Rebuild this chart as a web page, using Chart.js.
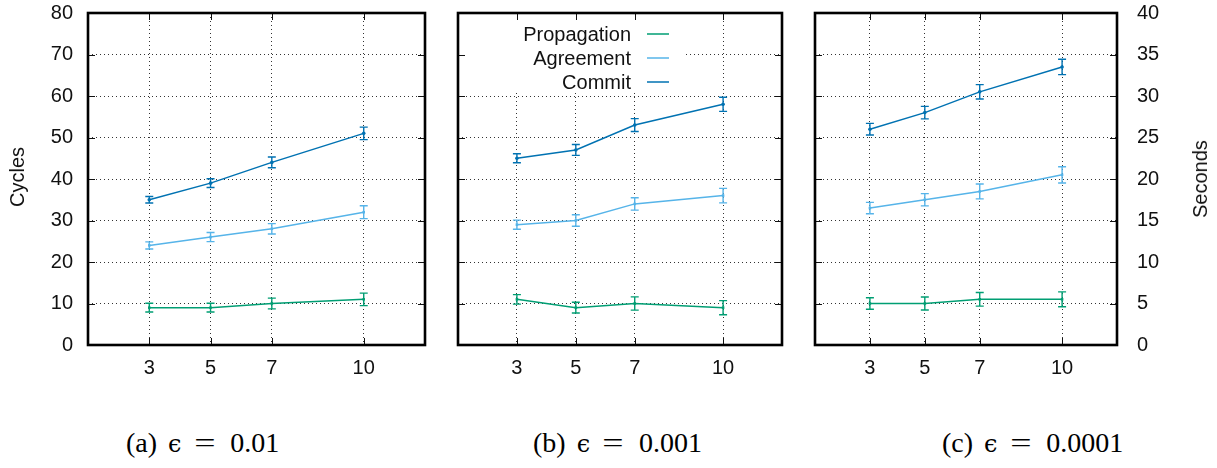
<!DOCTYPE html>
<html>
<head>
<meta charset="utf-8">
<script src="https://cdn.jsdelivr.net/npm/chart.js@4.4.1/dist/chart.umd.min.js"></script>
<style>
  html, body { margin: 0; padding: 0; background: #fff; }
  #wrap { position: relative; width: 1217px; height: 468px; overflow: hidden;
          font-family: 'Liberation Sans', Arial, sans-serif; color: #111; }
  canvas { position: absolute; top: 0; }
  .ytitle { position: absolute; font-size: 20px; line-height: 1; white-space: nowrap;
            transform: translate(-50%, -50%) rotate(-90deg); }
  .cap { position: absolute; top: 429px; font-family: 'Liberation Serif', 'DejaVu Serif', serif;
         font-size: 28px; line-height: 1; white-space: nowrap; color: #000; }
  .cap .eps { margin-left: 11px; font-family: 'DejaVu Serif', serif; font-size: 24px; }
  .cap .eq { margin-left: 15px; display: inline-block; transform: scaleX(1.35); }
  .cap .num { margin-left: 18px; }
</style>
</head>
<body>
<div id="wrap">
  <canvas id="panelA" width="440" height="400" style="left:0px"></canvas>
  <canvas id="panelB" width="350" height="400" style="left:440px"></canvas>
  <canvas id="panelC" width="417" height="400" style="left:800px"></canvas>
  <div class="ytitle" style="left:17px; top:177px;">Cycles</div>
  <div class="ytitle" style="left:1200px; top:179px;">Seconds</div>
  <div class="cap" style="left:126px;">(a)<span class="eps">ϵ</span><span class="eq">=</span><span class="num">0.01</span></div>
  <div class="cap" style="left:533px;">(b)<span class="eps">ϵ</span><span class="eq">=</span><span class="num">0.001</span></div>
  <div class="cap" style="left:942px;">(c)<span class="eps">ϵ</span><span class="eq">=</span><span class="num">0.0001</span></div>
</div>
<script>
// Number of nodes on the x axis
const nodes = [3, 5, 7, 10];
const seriesNames = ['Propagation', 'Agreement', 'Commit'];
const seriesColors = ['#009e73', '#56b4e9', '#0072b2'];

// ε = 0.01 (cycles): means and error half-widths
const propA = [9, 9, 10, 11];
const propAErr = [1.05, 1.05, 1.3, 1.5];
const agreeA = [24, 26, 28, 32];
const agreeAErr = [0.85, 1.1, 1.25, 1.55];
const commitA = [35, 39, 44, 51];
const commitAErr = [0.8, 1.05, 1.3, 1.5];

// ε = 0.001 (cycles)
const propB = [11, 9, 10, 9];
const propBErr = [1.15, 1.3, 1.6, 1.7];
const agreeB = [29, 30, 34, 36];
const agreeBErr = [1.1, 1.4, 1.5, 1.75];
const commitB = [45, 47, 53, 58];
const commitBErr = [1.1, 1.3, 1.55, 1.7];

// ε = 0.0001 (seconds)
const propC = [5, 5, 5.5, 5.5];
const propCErr = [0.7, 0.78, 0.82, 0.9];
const agreeC = [16.5, 17.5, 18.5, 20.5];
const agreeCErr = [0.68, 0.74, 0.9, 0.98];
const commitC = [26, 28, 30.5, 33.5];
const commitCErr = [0.7, 0.75, 0.87, 0.92];

// Axis tick labels
const cycleTicks = [0, 10, 20, 30, 40, 50, 60, 70, 80];
const secondTicks = [0, 5, 10, 15, 20, 25, 30, 35, 40];

const FONT = 'Liberation Sans, Arial, sans-serif';

// Error bars, plot frame with inward ticks, and the in-plot key
const framePlugin = {
  id: 'frame',
  beforeDatasetsDraw(chart, args, opts) {
    if (!opts.legend) return;
    const { ctx, chartArea } = chart;
    ctx.save();
    ctx.fillStyle = '#fff';
    ctx.fillRect(chartArea.left + 1, chartArea.top + 1, 224, 79);
    ctx.restore();
  },
  afterDatasetsDraw(chart) {
    const { ctx } = chart;
    const yScale = chart.scales.y;
    chart.data.datasets.forEach((ds, i) => {
      const meta = chart.getDatasetMeta(i);
      ctx.save();
      ctx.strokeStyle = ds.borderColor;
      ctx.lineWidth = 1.4;
      meta.data.forEach((pt, j) => {
        const v = ds.data[j].y;
        const e = ds.errorBars[j];
        const x = pt.x;
        const yHi = yScale.getPixelForValue(v + e);
        const yLo = yScale.getPixelForValue(v - e);
        ctx.beginPath();
        ctx.moveTo(x, yHi); ctx.lineTo(x, yLo);
        ctx.moveTo(x - 4, yHi); ctx.lineTo(x + 4, yHi);
        ctx.moveTo(x - 4, yLo); ctx.lineTo(x + 4, yLo);
        ctx.stroke();
      });
      ctx.restore();
    });
  },
  afterDraw(chart, args, opts) {
    const { ctx, chartArea: a } = chart;
    const xs = chart.scales.x, ys = chart.scales.y;
    ctx.save();
    // inward tick marks on all four sides
    ctx.strokeStyle = '#111';
    ctx.lineWidth = 1;
    ctx.beginPath();
    xs.ticks.forEach(t => {
      const x = Math.round(xs.getPixelForValue(t.value)) + 0.5;
      ctx.moveTo(x, a.bottom); ctx.lineTo(x, a.bottom - 7);
      ctx.moveTo(x, a.top); ctx.lineTo(x, a.top + 7);
    });
    ys.ticks.forEach(t => {
      if (t.value === ys.min || t.value === ys.max) return;
      const y = Math.round(ys.getPixelForValue(t.value)) + 0.5;
      ctx.moveTo(a.left, y); ctx.lineTo(a.left + 7, y);
      ctx.moveTo(a.right, y); ctx.lineTo(a.right - 7, y);
    });
    ctx.stroke();
    // heavy frame
    ctx.strokeStyle = '#000';
    ctx.lineWidth = 2.6;
    ctx.strokeRect(a.left, a.top, a.right - a.left, a.bottom - a.top);
    // key: labels right-aligned, line samples to the right
    if (opts.legend) {
      ctx.font = '20px ' + FONT;
      ctx.textAlign = 'right';
      ctx.textBaseline = 'middle';
      chart.data.datasets.forEach((ds, i) => {
        const y = a.top + 21 + i * 24;
        ctx.fillStyle = '#111';
        ctx.fillText(ds.label, a.left + 173, y + 1);
        ctx.strokeStyle = ds.borderColor;
        ctx.lineWidth = 1.5;
        ctx.beginPath();
        ctx.moveTo(a.left + 189, y); ctx.lineTo(a.left + 211, y);
        ctx.stroke();
      });
    }
    ctx.restore();
  }
};

function series(values, errs, idx) {
  return {
    label: seriesNames[idx],
    data: values,
    errorBars: errs,
    borderColor: seriesColors[idx],
    backgroundColor: seriesColors[idx],
    borderWidth: 1.5,
    pointRadius: 1.8,
    pointBorderWidth: 0,
    pointStyle: idx === 2 ? 'circle' : 'rect',
    tension: 0
  };
}

function makePanel(id, sets, yTicks, cfg) {
  return new Chart(document.getElementById(id), {
    type: 'line',
    data: { datasets: sets },
    options: {
      responsive: false,
      animation: false,
      events: [],
      layout: { padding: cfg.padding },
      plugins: {
        legend: { display: false },
        tooltip: { enabled: false },
        frame: { legend: !!cfg.legend }
      },
      scales: {
        x: {
          type: 'linear', min: 1, max: 12,
          afterBuildTicks: s => { s.ticks = nodes.map(v => ({ value: v })); },
          afterFit: s => { s.height = 55; s.paddingLeft = 0; s.paddingRight = 0; },
          grid: { color: '#333', lineWidth: 1, drawTicks: false },
          border: { display: false, dash: [1, 3] },
          ticks: { font: { family: FONT, size: 20 }, color: '#111', padding: 11,
                   maxRotation: 0, autoSkip: false, callback: v => String(v) }
        },
        y: {
          type: 'linear', position: cfg.yPosition, min: 0, max: yTicks[yTicks.length - 1],
          afterBuildTicks: s => { s.ticks = yTicks.map(v => ({ value: v })); },
          afterFit: s => { s.width = cfg.yWidth; s.paddingTop = 0; s.paddingBottom = 0; },
          grid: { color: '#333', lineWidth: 1, drawTicks: false },
          border: { display: false, dash: [1, 3] },
          ticks: { display: cfg.yLabels, font: { family: FONT, size: 20 }, color: '#111',
                   padding: cfg.yPad, callback: v => String(v) }
        }
      }
    },
    plugins: [framePlugin]
  });
}

// pair each value with its node count
function xy(values) { return values.map((v, i) => ({ x: nodes[i], y: v })); }

makePanel('panelA', [
  series(xy(propA), propAErr, 0),
  series(xy(agreeA), agreeAErr, 1),
  series(xy(commitA), commitAErr, 2)
], cycleTicks, { padding: { left: 0, right: 15, top: 13, bottom: 0 }, yPosition: 'left', yWidth: 88, yLabels: true, yPad: 15 });

makePanel('panelB', [
  series(xy(propB), propBErr, 0),
  series(xy(agreeB), agreeBErr, 1),
  series(xy(commitB), commitBErr, 2)
], cycleTicks, { padding: { left: 18, right: 8, top: 13, bottom: 0 }, yPosition: 'left', yWidth: 0, yLabels: false, yPad: 0, legend: true });

makePanel('panelC', [
  series(xy(propC), propCErr, 0),
  series(xy(agreeC), agreeCErr, 1),
  series(xy(commitC), commitCErr, 2)
], secondTicks, { padding: { left: 15, right: 0, top: 13, bottom: 0 }, yPosition: 'right', yWidth: 100, yLabels: true, yPad: 20 });
</script>
</body>
</html>
